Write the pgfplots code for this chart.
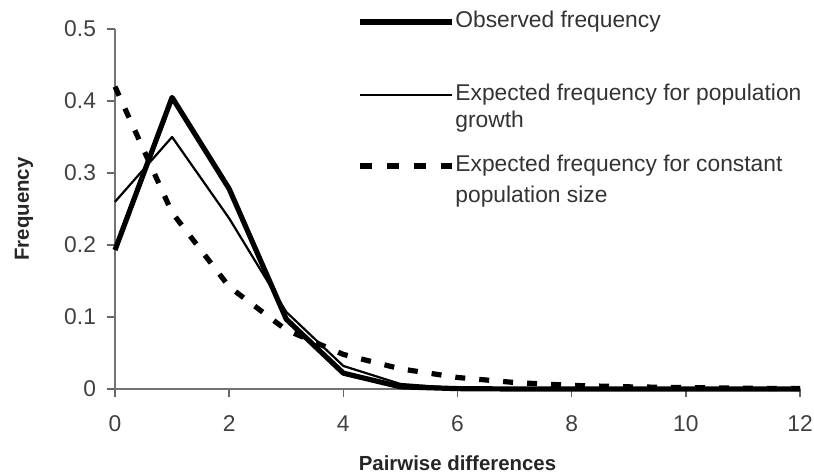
\documentclass[border=0pt]{standalone}
\usepackage{fontspec}
\setmainfont{Liberation Sans}
\usepackage{pgfplots}
\pgfplotsset{compat=1.18}
\begin{document}
\begin{tikzpicture}
\useasboundingbox (-57.5pt,-42.5pt) rectangle (349.5pt,194.5pt);
\begin{axis}[
  scale only axis, width=342.5pt, height=180pt,
  xmin=0, xmax=12, ymin=0, ymax=0.5,
  axis x line=bottom, axis y line=left,
  axis line style={-, draw=black!55, line width=0.8pt},
  xtick={0,2,4,6,8,10,12},
  ytick={0,0.1,0.2,0.3,0.4,0.5},
  tick align=outside, major tick length=4pt,
  tick style={black!60, line width=0.8pt},
  /pgf/number format/assume math mode=true,
  ticklabel style={font=\fontsize{11.4}{13}\selectfont, text=black!75},
  xticklabel style={yshift=-6pt},
  yticklabel style={xshift=-2pt},
  xlabel={Pairwise differences}, ylabel={Frequency},
  label style={font=\bfseries\fontsize{10.2}{12}\selectfont, text=black!85},
  xlabel style={at={(axis description cs:0.5,0)}, anchor=center, yshift=-37pt},
  ylabel style={at={(axis description cs:-0.1328,0.5)}, anchor=center},
  clip=false,
]
\addplot[black, line width=2.6pt, line join=round] coordinates {
 (0,0.193) (1,0.405) (2,0.278) (3,0.097) (4,0.022) (5,0.003) (6,0.0005) (7,0) (8,0) (9,0) (10,0) (11,0) (12,0)};
\addplot[black, line width=1.1pt, line join=round] coordinates {
 (0,0.26) (1,0.35) (2,0.237) (3,0.107) (4,0.032) (5,0.007) (6,0.001) (7,0) (8,0) (9,0) (10,0) (11,0) (12,0)};
\addplot[black, line width=2.6pt, dash pattern=on 5pt off 7pt] coordinates {
 (0,0.42) (1,0.245) (2,0.142) (3,0.082) (4,0.048) (5,0.028) (6,0.016) (7,0.009) (8,0.005) (9,0.003) (10,0.002) (11,0.001) (12,0.0006)};
% legend
\draw[black, line width=2.6pt] (axis description cs:0.3577,1.0194) -- (axis description cs:0.492,1.0194);
\draw[black, line width=1.1pt] (axis description cs:0.3577,0.8167) -- (axis description cs:0.492,0.8167);
\draw[black, line width=2.6pt, dash pattern=on 6pt off 7.5pt] (axis description cs:0.3577,0.6194) -- (axis description cs:0.492,0.6194);
\begin{scope}[every node/.style={anchor=mid west, inner sep=0pt, font=\fontsize{11.4}{12.5}\selectfont, text=black!80}]
\node at (axis description cs:0.4964,1.0194) {Observed frequency};
\node at (axis description cs:0.4964,0.8167) {Expected frequency for population};
\node at (axis description cs:0.4964,0.7417) {growth};
\node at (axis description cs:0.4964,0.6194) {Expected frequency for constant};
\node at (axis description cs:0.4964,0.5333) {population size};
\end{scope}
\end{axis}
\end{tikzpicture}
\end{document}
